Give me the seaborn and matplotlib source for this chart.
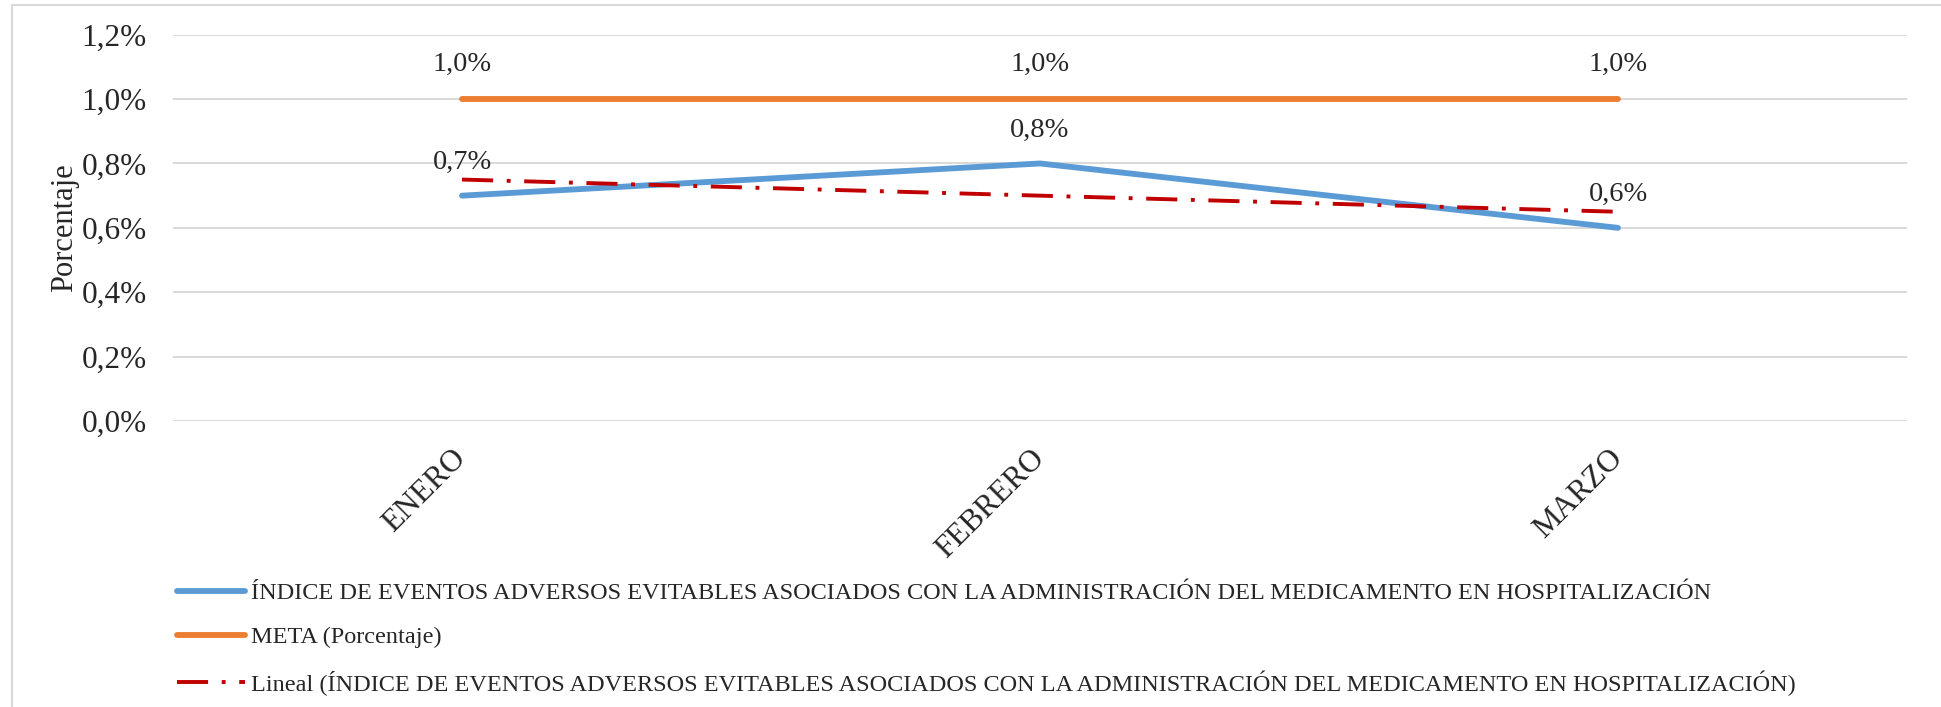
import numpy as np
import pandas as pd
import seaborn as sns
import matplotlib.pyplot as plt
from matplotlib.patches import Rectangle
from matplotlib.ticker import FuncFormatter

# data (values in %)
meses = ['ENERO', 'FEBRERO', 'MARZO']
indice = [0.7, 0.8, 0.6]
meta = [1.0, 1.0, 1.0]

lbl_indice = 'ÍNDICE DE EVENTOS ADVERSOS EVITABLES ASOCIADOS CON LA ADMINISTRACIÓN DEL MEDICAMENTO EN HOSPITALIZACIÓN'
lbl_meta = 'META (Porcentaje)'
lbl_lineal = 'Lineal (' + lbl_indice + ')'

# linear trendline like excel
xi = np.arange(len(meses))
coef = np.polyfit(xi, indice, 1)
lineal = np.polyval(coef, xi)

df = pd.DataFrame({'mes': meses, 'indice': indice, 'meta': meta, 'lineal': lineal})

sns.set_style('white')
plt.rcParams['font.family'] = ['Liberation Serif', 'DejaVu Serif']

fig = plt.figure(figsize=(19.41, 7.07), dpi=100)
ax = fig.add_axes([173 / 1941, 1 - 421 / 707, (1907 - 173) / 1941, (421 - 34.7) / 707])

# chart border
fig.patches.append(Rectangle((12 / 1941, -0.05), 1.2, 1.05 - 5 / 707, transform=fig.transFigure,
                             fill=False, edgecolor='#D9D9D9', linewidth=1.5, zorder=0))

sns.lineplot(data=df, x='mes', y='indice', ax=ax, color='#5B9BD5', linewidth=4.2,
             sort=False, label=lbl_indice, solid_capstyle='round', zorder=3)
sns.lineplot(data=df, x='mes', y='meta', ax=ax, color='#ED7D31', linewidth=4.2,
             sort=False, label=lbl_meta, solid_capstyle='round', zorder=3)
sns.lineplot(data=df, x='mes', y='lineal', ax=ax, color='#C00000', linewidth=2.8,
             sort=False, label=lbl_lineal, zorder=4, dashes=False)
ax.lines[-1].set_dashes((8, 3.5, 1, 3.5))

# data labels
for i, v in enumerate(indice):
    ax.annotate(f'{v:.1f}%'.replace('.', ','), (i, v), xytext=(0, 24), textcoords='offset points',
                ha='center', va='center', fontsize=20.5)
for i, v in enumerate(meta):
    ax.annotate(f'{v:.1f}%'.replace('.', ','), (i, v), xytext=(0, 25), textcoords='offset points',
                ha='center', va='center', fontsize=20.5)

ax.set_xlim(-0.5, 2.5)
ax.set_ylim(0, 1.2)
ax.set_yticks(np.arange(0, 1.21, 0.2))
ax.yaxis.set_major_formatter(FuncFormatter(lambda v, p: f'{v:.1f}%'.replace('.', ',')))
ax.yaxis.grid(True, color='#D9D9D9', linewidth=1.4)
ax.set_axisbelow(True)
for s in ax.spines.values():
    s.set_visible(False)
ax.tick_params(axis='y', labelsize=22.5, length=0, pad=19)
ax.tick_params(axis='x', labelsize=22.5, length=0, pad=24)
plt.setp(ax.get_xticklabels(), rotation=45, ha='right', va='center', rotation_mode='anchor')
ax.set_xlabel('')
ax.set_ylabel('Porcentaje', fontsize=22, labelpad=2)

ax.get_legend().remove()
h, l = ax.get_legend_handles_labels()
fig.legend(h, l, loc='center left', bbox_to_anchor=(177 / 1941, 1 - 639 / 707), frameon=False,
           fontsize=17.5, handlelength=2.8, handletextpad=0.25, labelspacing=0.9, borderpad=0,
           borderaxespad=0)

fig.savefig('out.png', dpi=100)
